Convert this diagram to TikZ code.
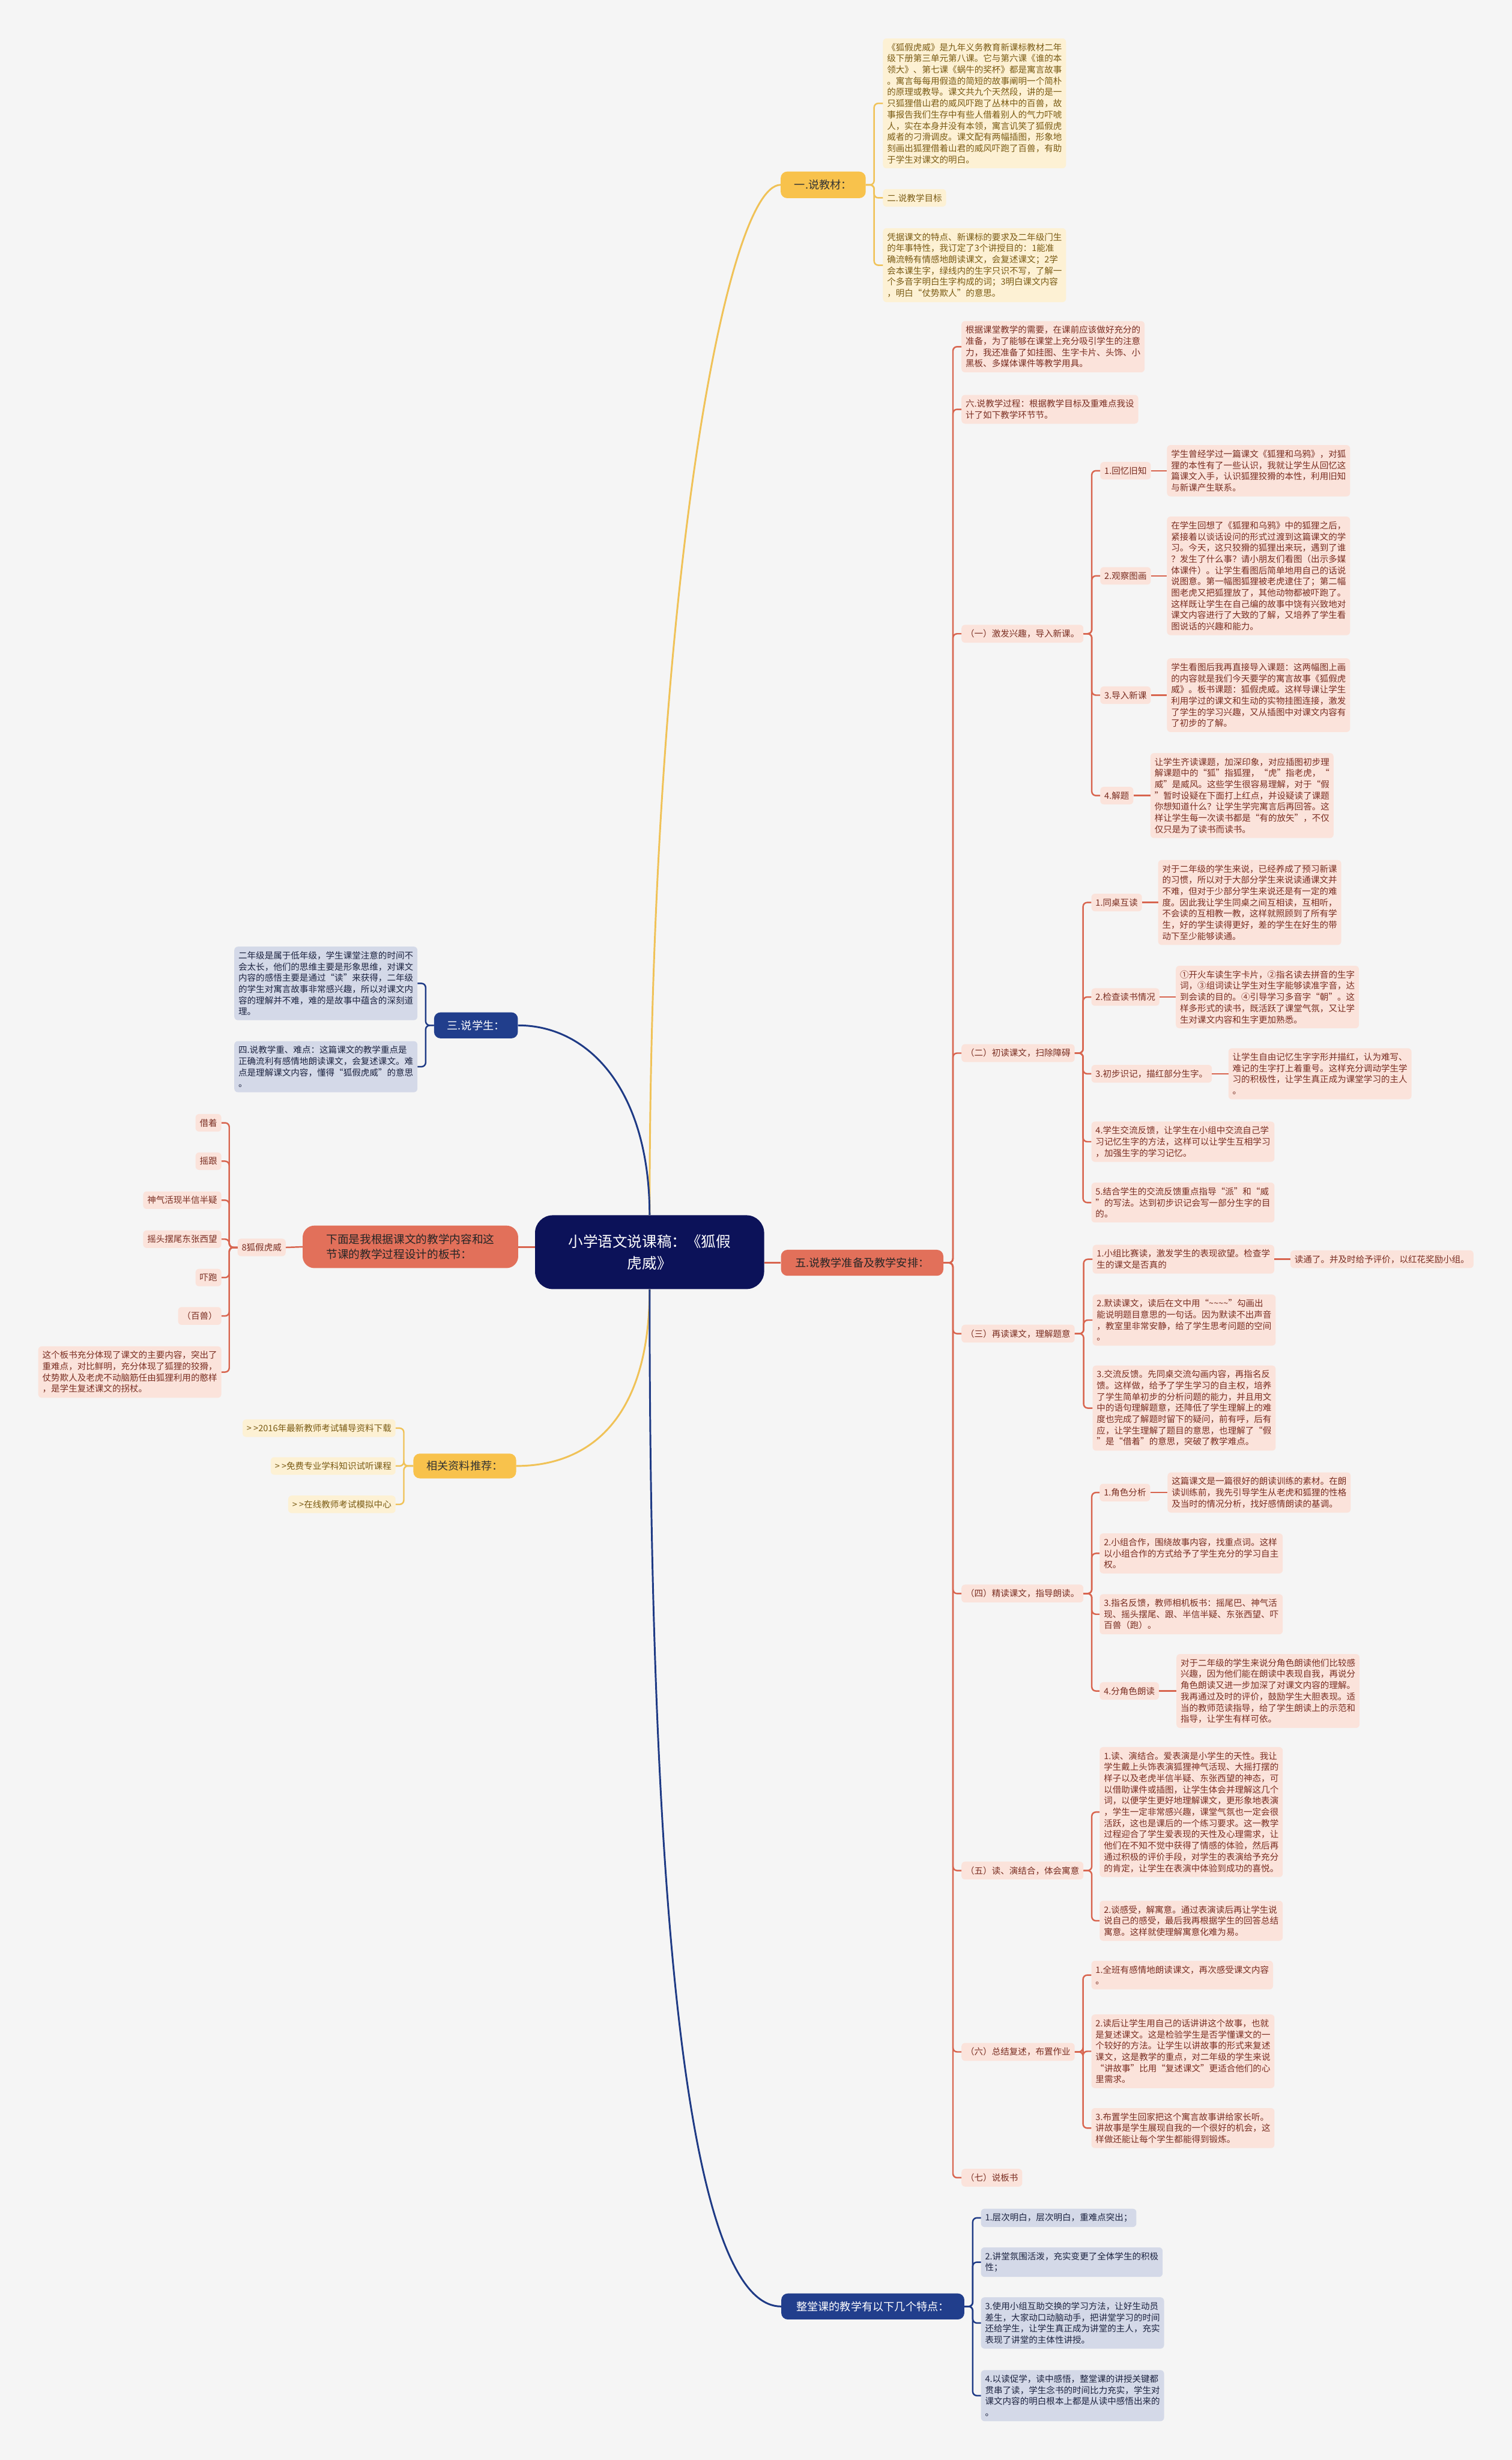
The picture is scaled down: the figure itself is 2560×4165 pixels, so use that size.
\documentclass[tikz,border=0pt]{standalone}
\usepackage{fontspec}
\setmainfont{Noto Sans CJK SC}
\definecolor{bgc}{HTML}{F5F5F5}
\definecolor{ctrc}{HTML}{0C1259}
\definecolor{yfill}{HTML}{FDF1D4}
\definecolor{ytext}{HTML}{7A5B14}
\definecolor{ymain}{HTML}{F8C24C}
\definecolor{yline}{HTML}{F0C257}
\definecolor{rfill}{HTML}{FBE3DB}
\definecolor{rtext}{HTML}{7A2E22}
\definecolor{rmain}{HTML}{E2705A}
\definecolor{rline}{HTML}{D8654F}
\definecolor{bfill}{HTML}{D4D9E8}
\definecolor{btext}{HTML}{1C2340}
\definecolor{bmain}{HTML}{213E8C}
\definecolor{bline}{HTML}{1E3A85}

\begin{document}
\begin{tikzpicture}[x=1pt, y=-1pt,
  leaf/.style={rounded corners=6pt, inner xsep=7pt, inner ysep=8pt, align=left,
    font=\fontsize{14.8}{19}\selectfont},
  leafr/.style={leaf, fill=rfill, text=rtext},
  leafy/.style={leaf, fill=yfill, text=ytext},
  leafb/.style={leaf, fill=bfill, text=btext},
  topic/.style={rounded corners=11pt, align=center, inner sep=0pt,
    font=\fontsize{18.5}{24}\selectfont},
  lr/.style={draw=rline, line width=2.5pt, rounded corners=7pt},
  ly/.style={draw=yline, line width=2.5pt, rounded corners=7pt},
  lb/.style={draw=bline, line width=2.5pt, rounded corners=7pt},
  cr/.style={draw=rline, line width=3pt},
  cy/.style={draw=yline, line width=3pt},
  cb/.style={draw=bline, line width=3pt}]
  \fill[bgc] (0,0) rectangle (2560,4165);
  \useasboundingbox (0,0) rectangle (2560,4165);

  \node[fill=ctrc, text=white, rounded corners=30pt, align=center, inner sep=0pt,
    minimum width=388pt, minimum height=125pt,
    font=\fontsize{25}{37}\selectfont] (ctr) at (1100,2120)
    {小学语文说课稿：《狐假\\虎威》};

  % yellow, top
  \node[topic, fill=ymain, text=black!80, minimum width=144pt, minimum height=45pt] (sjc) at (1394,313) {一.说教材：};
  \node[leafy, anchor=west] (s1) at (1495,175) {《狐假虎威》是九年义务教育新课标教材二年\\级下册第三单元第八课。它与第六课《谁的本\\领大》、第七课《蜗牛的奖杯》都是寓言故事\\。寓言每每用假造的简短的故事阐明一个简朴\\的原理或教导。课文共九个天然段，讲的是一\\只狐狸借山君的威风吓跑了丛林中的百兽，故\\事报告我们生存中有些人借着别人的气力吓唬\\人，实在本身并没有本领，寓言讥笑了狐假虎\\威者的刁滑调皮。课文配有两幅插图，形象地\\刻画出狐狸借着山君的威风吓跑了百兽，有助\\于学生对课文的明白。};
  \node[leafy, anchor=west] (s2) at (1495,335) {二.说教学目标};
  \node[leafy, anchor=west] (s3) at (1495,449) {凭据课文的特点、新课标的要求及二年级门生\\的年事特性，我订定了3个讲授目的：1能准\\确流畅有情感地朗读课文，会复述课文；2学\\会本课生字，绿线内的生字只识不写，了解一\\个多音字明白生字构成的词；3明白课文内容\\，明白“仗势欺人”的意思。};

  % navy, left
  \node[topic, fill=bmain, text=white, minimum width=142pt, minimum height=44pt] (xs) at (806,1736) {三.说学生：};
  \node[leafb, anchor=east] (h1) at (707,1665) {二年级是属于低年级，学生课堂注意的时间不\\会太长，他们的思维主要是形象思维，对课文\\内容的感悟主要是通过“读”来获得，二年级\\的学生对寓言故事非常感兴趣，所以对课文内\\容的理解并不难，难的是故事中蕴含的深刻道\\理。};
  \node[leafb, anchor=east] (h2) at (707,1806) {四.说教学重、难点：这篇课文的教学重点是\\正确流利有感情地朗读课文，会复述课文。难\\点是理解课文内容，懂得“狐假虎威”的意思\\。};

  % red, left
  \node[topic, fill=rmain, text=black!85, align=left, minimum width=365pt, minimum height=72pt,
    rounded corners=20pt, font=\fontsize{19}{25.5}\selectfont] (bs) at (695,2111)
    {下面是我根据课文的教学内容和这\\节课的教学过程设计的板书：};
  \node[leafr, anchor=east] (k0) at (484,2112) {8狐假虎威};
  \node[leafr, anchor=east] (k1) at (375,1901) {借着};
  \node[leafr, anchor=east] (k2) at (375,1966) {摇跟};
  \node[leafr, anchor=east] (k3) at (375,2032) {神气活现半信半疑};
  \node[leafr, anchor=east] (k4) at (375,2098) {摇头摆尾东张西望};
  \node[leafr, anchor=east] (k5) at (375,2163) {吓跑};
  \node[leafr, anchor=east] (k6) at (375,2228) {（百兽）};
  \node[leafr, anchor=east] (k7) at (375,2323) {这个板书充分体现了课文的主要内容，突出了\\重难点，对比鲜明，充分体现了狐狸的狡猾，\\仗势欺人及老虎不动脑筋任由狐狸利用的憨样\\，是学生复述课文的拐杖。};

  % yellow, left
  \node[topic, fill=ymain, text=black!80, minimum width=174pt, minimum height=42pt] (zx) at (787,2482) {相关资料推荐：};
  \node[leafy, anchor=east] (y1) at (670,2418) {> >2016年最新教师考试辅导资料下载};
  \node[leafy, anchor=east] (y2) at (670,2482) {> >免费专业学科知识试听课程};
  \node[leafy, anchor=east] (y3) at (670,2547) {> >在线教师考试模拟中心};

  % red, right
  \node[topic, fill=rmain, text=black!85, minimum width=275pt, minimum height=44pt] (wu) at (1460,2138) {五.说教学准备及教学安排：};
  \node[leafr, anchor=west] (r1) at (1628,587) {根据课堂教学的需要，在课前应该做好充分的\\准备，为了能够在课堂上充分吸引学生的注意\\力，我还准备了如挂图、生字卡片、头饰、小\\黑板、多媒体课件等教学用具。};
  \node[leafr, anchor=west] (r2) at (1628,693) {六.说教学过程：根据教学目标及重难点我设\\计了如下教学环节节。};
  \node[leafr, anchor=west] (r3) at (1628,1073) {（一）激发兴趣，导入新课。};
  \node[leafr, anchor=west] (r4) at (1628,1783) {（二）初读课文，扫除障碍};
  \node[leafr, anchor=west] (r5) at (1628,2258) {（三）再读课文，理解题意};
  \node[leafr, anchor=west] (r6) at (1628,2698) {（四）精读课文，指导朗读。};
  \node[leafr, anchor=west] (r7) at (1628,3167) {（五）读、演结合，体会寓意};
  \node[leafr, anchor=west] (r8) at (1628,3474) {（六）总结复述，布置作业};
  \node[leafr, anchor=west] (r9) at (1628,3687) {（七）说板书};

  \node[leafr, anchor=west] (a1) at (1863,797) {1.回忆旧知};
  \node[leafr, anchor=west] (t1) at (1976,797) {学生曾经学过一篇课文《狐狸和乌鸦》，对狐\\狸的本性有了一些认识，我就让学生从回忆这\\篇课文入手，认识狐狸狡猾的本性，利用旧知\\与新课产生联系。};
  \node[leafr, anchor=west] (a2) at (1863,975) {2.观察图画};
  \node[leafr, anchor=west] (t2) at (1976,975) {在学生回想了《狐狸和乌鸦》中的狐狸之后，\\紧接着以谈话设问的形式过渡到这篇课文的学\\习。今天，这只狡猾的狐狸出来玩，遇到了谁\\？发生了什么事？请小朋友们看图（出示多媒\\体课件）。让学生看图后简单地用自己的话说\\说图意。第一幅图狐狸被老虎逮住了；第二幅\\图老虎又把狐狸放了，其他动物都被吓跑了。\\这样既让学生在自己编的故事中饶有兴致地对\\课文内容进行了大致的了解，又培养了学生看\\图说话的兴趣和能力。};
  \node[leafr, anchor=west] (a3) at (1863,1177) {3.导入新课};
  \node[leafr, anchor=west] (t3) at (1976,1177) {学生看图后我再直接导入课题：这两幅图上画\\的内容就是我们今天要学的寓言故事《狐假虎\\威》。板书课题：狐假虎威。这样导课让学生\\利用学过的课文和生动的实物挂图连接，激发\\了学生的学习兴趣，又从插图中对课文内容有\\了初步的了解。};
  \node[leafr, anchor=west] (a4) at (1863,1347) {4.解题};
  \node[leafr, anchor=west] (t4) at (1948,1347) {让学生齐读课题，加深印象，对应插图初步理\\解课题中的“狐”指狐狸，“虎”指老虎，“\\威”是威风。这些学生很容易理解，对于“假\\”暂时设疑在下面打上红点，并设疑读了课题\\你想知道什么？让学生学完寓言后再回答。这\\样让学生每一次读书都是“有的放矢”，不仅\\仅只是为了读书而读书。};

  \node[leafr, anchor=west] (b1) at (1848,1528) {1.同桌互读};
  \node[leafr, anchor=west] (tb1) at (1961,1528) {对于二年级的学生来说，已经养成了预习新课\\的习惯，所以对于大部分学生来说读通课文并\\不难，但对于少部分学生来说还是有一定的难\\度。因此我让学生同桌之间互相读，互相听，\\不会读的互相教一教，这样就照顾到了所有学\\生，好的学生读得更好，差的学生在好生的带\\动下至少能够读通。};
  \node[leafr, anchor=west] (b2) at (1848,1688) {2.检查读书情况};
  \node[leafr, anchor=west] (tb2) at (1991,1688) {①开火车读生字卡片，②指名读去拼音的生字\\词，③组词读让学生对生字能够读准字音，达\\到会读的目的。④引导学习多音字“朝”。这\\样多形式的读书，既活跃了课堂气氛，又让学\\生对课文内容和生字更加熟悉。};
  \node[leafr, anchor=west] (b3) at (1848,1818) {3.初步识记，描红部分生字。};
  \node[leafr, anchor=west] (tb3) at (2080,1818) {让学生自由记忆生字字形并描红，认为难写、\\难记的生字打上着重号。这样充分调动学生学\\习的积极性，让学生真正成为课堂学习的主人\\。};
  \node[leafr, anchor=west] (b4) at (1848,1933) {4.学生交流反馈，让学生在小组中交流自己学\\习记忆生字的方法，这样可以让学生互相学习\\，加强生字的学习记忆。};
  \node[leafr, anchor=west] (b5) at (1848,2036) {5.结合学生的交流反馈重点指导“派”和“威\\”的写法。达到初步识记会写一部分生字的目\\的。};

  \node[leafr, anchor=west] (c1) at (1850,2132) {1.小组比赛读，激发学生的表现欲望。检查学\\生的课文是否真的};
  \node[leafr, anchor=west] (tc1) at (2185,2132) {读通了。并及时给予评价，以红花奖励小组。};
  \node[leafr, anchor=west] (c2) at (1850,2235) {2.默读课文，读后在文中用“\textasciitilde\textasciitilde\textasciitilde\textasciitilde”勾画出\\能说明题目意思的一句话。因为默读不出声音\\，教室里非常安静，给了学生思考问题的空间\\。};
  \node[leafr, anchor=west] (c3) at (1850,2384) {3.交流反馈。先同桌交流勾画内容，再指名反\\馈。这样做，给予了学生学习的自主权，培养\\了学生简单初步的分析问题的能力，并且用文\\中的语句理解题意，还降低了学生理解上的难\\度也完成了解题时留下的疑问，前有呼，后有\\应，让学生理解了题目的意思，也理解了“假\\”是“借着”的意思，突破了教学难点。};

  \node[leafr, anchor=west] (d1) at (1862,2527) {1.角色分析};
  \node[leafr, anchor=west] (td1) at (1977,2527) {这篇课文是一篇很好的朗读训练的素材。在朗\\读训练前，我先引导学生从老虎和狐狸的性格\\及当时的情况分析，找好感情朗读的基调。};
  \node[leafr, anchor=west] (d2) at (1862,2630) {2.小组合作，围绕故事内容，找重点词。这样\\以小组合作的方式给予了学生充分的学习自主\\权。};
  \node[leafr, anchor=west] (d3) at (1862,2733) {3.指名反馈，教师相机板书：摇尾巴、神气活\\现、摇头摆尾、跟、半信半疑、东张西望、吓\\百兽（跑）。};
  \node[leafr, anchor=west] (d4) at (1862,2863) {4.分角色朗读};
  \node[leafr, anchor=west] (td4) at (1992,2863) {对于二年级的学生来说分角色朗读他们比较感\\兴趣，因为他们能在朗读中表现自我，再说分\\角色朗读又进一步加深了对课文内容的理解。\\我再通过及时的评价，鼓励学生大胆表现。适\\当的教师范读指导，给了学生朗读上的示范和\\指导，让学生有样可依。};

  \node[leafr, anchor=west] (e1) at (1862,3068) {1.读、演结合。爱表演是小学生的天性。我让\\学生戴上头饰表演狐狸神气活现、大摇打摆的\\样子以及老虎半信半疑、东张西望的神态，可\\以借助课件或插图，让学生体会并理解这几个\\词，以便学生更好地理解课文，更形象地表演\\，学生一定非常感兴趣，课堂气氛也一定会很\\活跃，这也是课后的一个练习要求。这一教学\\过程迎合了学生爱表现的天性及心理需求，让\\他们在不知不觉中获得了情感的体验，然后再\\通过积极的评价手段，对学生的表演给予充分\\的肯定，让学生在表演中体验到成功的喜悦。};
  \node[leafr, anchor=west] (e2) at (1862,3252) {2.谈感受，解寓意。通过表演读后再让学生说\\说自己的感受，最后我再根据学生的回答总结\\寓意。这样就使理解寓意化难为易。};

  \node[leafr, anchor=west] (f1) at (1848,3344) {1.全班有感情地朗读课文，再次感受课文内容\\。};
  \node[leafr, anchor=west] (f2) at (1848,3473) {2.读后让学生用自己的话讲讲这个故事，也就\\是复述课文。这是检验学生是否学懂课文的一\\个较好的方法。让学生以讲故事的形式来复述\\课文，这是教学的重点，对二年级的学生来说\\“讲故事”比用“复述课文”更适合他们的心\\里需求。};
  \node[leafr, anchor=west] (f3) at (1848,3603) {3.布置学生回家把这个寓言故事讲给家长听。\\讲故事是学生展现自我的一个很好的机会，这\\样做还能让每个学生都能得到锻炼。};

  % navy, bottom
  \node[topic, fill=bmain, text=white, minimum width=310pt, minimum height=44pt] (zt) at (1478,3905) {整堂课的教学有以下几个特点：};
  \node[leafb, anchor=west] (g1) at (1661,3755) {1.层次明白，层次明白，重难点突出；};
  \node[leafb, anchor=west] (g2) at (1661,3830) {2.讲堂氛围活泼，充实变更了全体学生的积极\\性；};
  \node[leafb, anchor=west] (g3) at (1661,3933) {3.使用小组互助交换的学习方法，让好生动员\\差生，大家动口动脑动手，把讲堂学习的时间\\还给学生，让学生真正成为讲堂的主人，充实\\表现了讲堂的主体性讲授。};
  \node[leafb, anchor=west] (g4) at (1661,4056) {4.以读促学，读中感悟，整堂课的讲授关键都\\贯串了读，学生念书的时间比力充实，学生对\\课文内容的明白根本上都是从读中感悟出来的\\。};

  % main branches
  \draw[cy] (ctr.north) .. controls (1100,1000) and (1230,313) .. (sjc.west);
  \draw[cb] (ctr.north) .. controls (1100,1850) and (1000,1736) .. (xs.east);
  \draw[cr] (bs.east) -- (bs.east -| ctr.west);
  \draw[cr] (wu.west -| ctr.east) -- (wu.west);
  \draw[cy] (ctr.south) .. controls (1100,2400) and (1000,2482) .. (zx.east);
  \draw[cb] (ctr.south) .. controls (1100,3500) and (1200,3905) .. (zt.west);

  % sub branches
  \foreach \c in {s1,s2,s3} \draw[ly] (sjc.east) -- ++(14,0) |- (\c.west);
  \foreach \c in {h1,h2} \draw[lb] (xs.west) -- ++(-14,0) |- (\c.east);
  \draw[lr] (bs.west) -- (k0.east);
  \foreach \c in {k1,k2,k3,k4,k5,k6,k7} \draw[lr] (k0.west) -- ++(-14,0) |- (\c.east);
  \foreach \c in {y1,y2,y3} \draw[ly] (zx.west) -- ++(-16,0) |- (\c.east);
  \foreach \c in {r1,r2,r3,r4,r5,r6,r7,r8,r9} \draw[lr] (wu.east) -- ++(16,0) |- (\c.west);
  \foreach \c in {a1,a2,a3,a4} \draw[lr] (r3.east) -- ++(14,0) |- (\c.west);
  \foreach \c in {b1,b2,b3,b4,b5} \draw[lr] (r4.east) -- ++(14,0) |- (\c.west);
  \foreach \c in {c1,c2,c3} \draw[lr] (r5.east) -- ++(15,0) |- (\c.west);
  \foreach \c in {d1,d2,d3,d4} \draw[lr] (r6.east) -- ++(14,0) |- (\c.west);
  \foreach \c in {e1,e2} \draw[lr] (r7.east) -- ++(14,0) |- (\c.west);
  \foreach \c in {f1,f2,f3} \draw[lr] (r8.east) -- ++(14,0) |- (\c.west);
  \foreach \c in {g1,g2,g3,g4} \draw[lb] (zt.east) -- ++(14,0) |- (\c.west);
  \foreach \p/\q in {a1/t1,a2/t2,a3/t3,a4/t4,b1/tb1,b2/tb2,b3/tb3,c1/tc1,d1/td1,d4/td4}
    \draw[lr] (\p.east) -- (\q.west);
\end{tikzpicture}
\end{document}
